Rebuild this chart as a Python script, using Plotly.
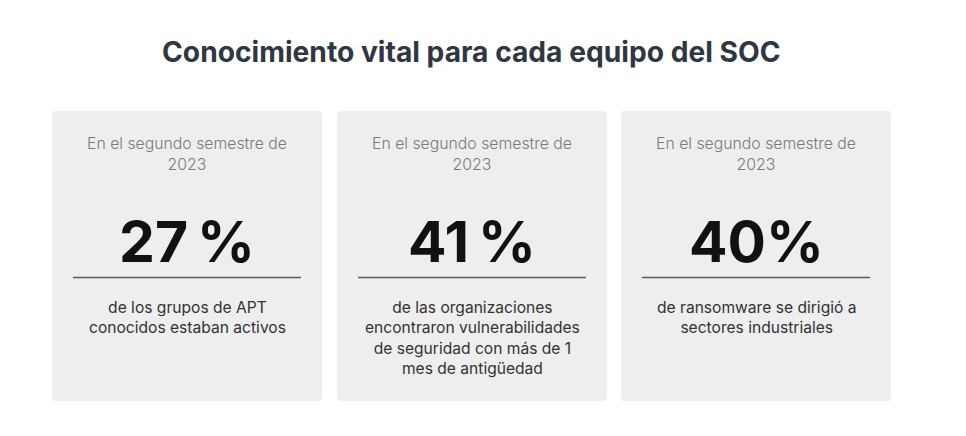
import plotly.graph_objects as go

title = "Conocimiento vital para cada equipo del SOC"
headers = ["En el segundo semestre de<br>2023"] * 3
values = ["27\u2009%", "41\u2009%", "40%"]
descriptions = [
    "de los grupos de APT<br>conocidos estaban activos",
    "de las organizaciones<br>encontraron vulnerabilidades<br>de seguridad con más de 1<br>mes de antigüedad",
    "de ransomware se dirigió a<br>sectores industriales",
]

W, H = 966, 436
M = 8  # page body margin
card_x0 = [52, 337, 621]
card_w = 270
card_y0, card_y1 = 111, 401
r = 4

fig = go.Figure()
fig.add_trace(go.Scatter(x=[M, W], y=[M, H], mode="markers", marker=dict(opacity=0), hoverinfo="skip", showlegend=False))

shapes = []
annotations = []
for i in range(3):
    x0 = card_x0[i]
    x1 = x0 + card_w
    y0, y1 = card_y0, card_y1
    path = (f"M {x0+r},{y0} L {x1-r},{y0} Q {x1},{y0} {x1},{y0+r} "
            f"L {x1},{y1-r} Q {x1},{y1} {x1-r},{y1} L {x0+r},{y1} "
            f"Q {x0},{y1} {x0},{y1-r} L {x0},{y0+r} Q {x0},{y0} {x0+r},{y0} Z")
    shapes.append(dict(type="path", path=path, xref="x", yref="y",
                       fillcolor="#eeeeee", line=dict(width=0), layer="below"))
    cx = x0 + card_w / 2
    shapes.append(dict(type="line", x0=x0 + 21, x1=x1 - 21, y0=277.5, y1=277.5,
                       xref="x", yref="y", line=dict(color="#5a5a5a", width=1.5)))
    annotations.append(dict(x=cx, y=153.5, xref="x", yref="y", text=headers[i],
                            showarrow=False, xanchor="center", yanchor="middle",
                            font=dict(family="Inter", size=15.8, color="#7a7a7a", weight=300)))
    annotations.append(dict(x=cx, y=241.5, xref="x", yref="y", text=values[i],
                            showarrow=False, xanchor="center", yanchor="middle",
                            font=dict(family="Inter", size=57, color="#111111", weight=700)))
    annotations.append(dict(x=cx, y=295.5, xref="x", yref="y", text=descriptions[i],
                            showarrow=False, xanchor="center", yanchor="top",
                            font=dict(family="Inter", size=15.6, color="#333333")))

annotations.append(dict(x=471, y=52, xref="x", yref="y", text=title,
                        showarrow=False, xanchor="center", yanchor="middle",
                        font=dict(family="Inter", size=28.2, color="#2e3742", weight=700)))

fig.update_layout(
    width=W - 2 * M, height=H - 2 * M, margin=dict(l=0, r=0, t=0, b=0),
    paper_bgcolor="white", plot_bgcolor="white",
    xaxis=dict(range=[M, W - M], visible=False, fixedrange=True),
    yaxis=dict(range=[H - M, M], visible=False, fixedrange=True),
    shapes=shapes, annotations=annotations, showlegend=False,
)
fig.write_html("out.html", config={"displayModeBar": False})
